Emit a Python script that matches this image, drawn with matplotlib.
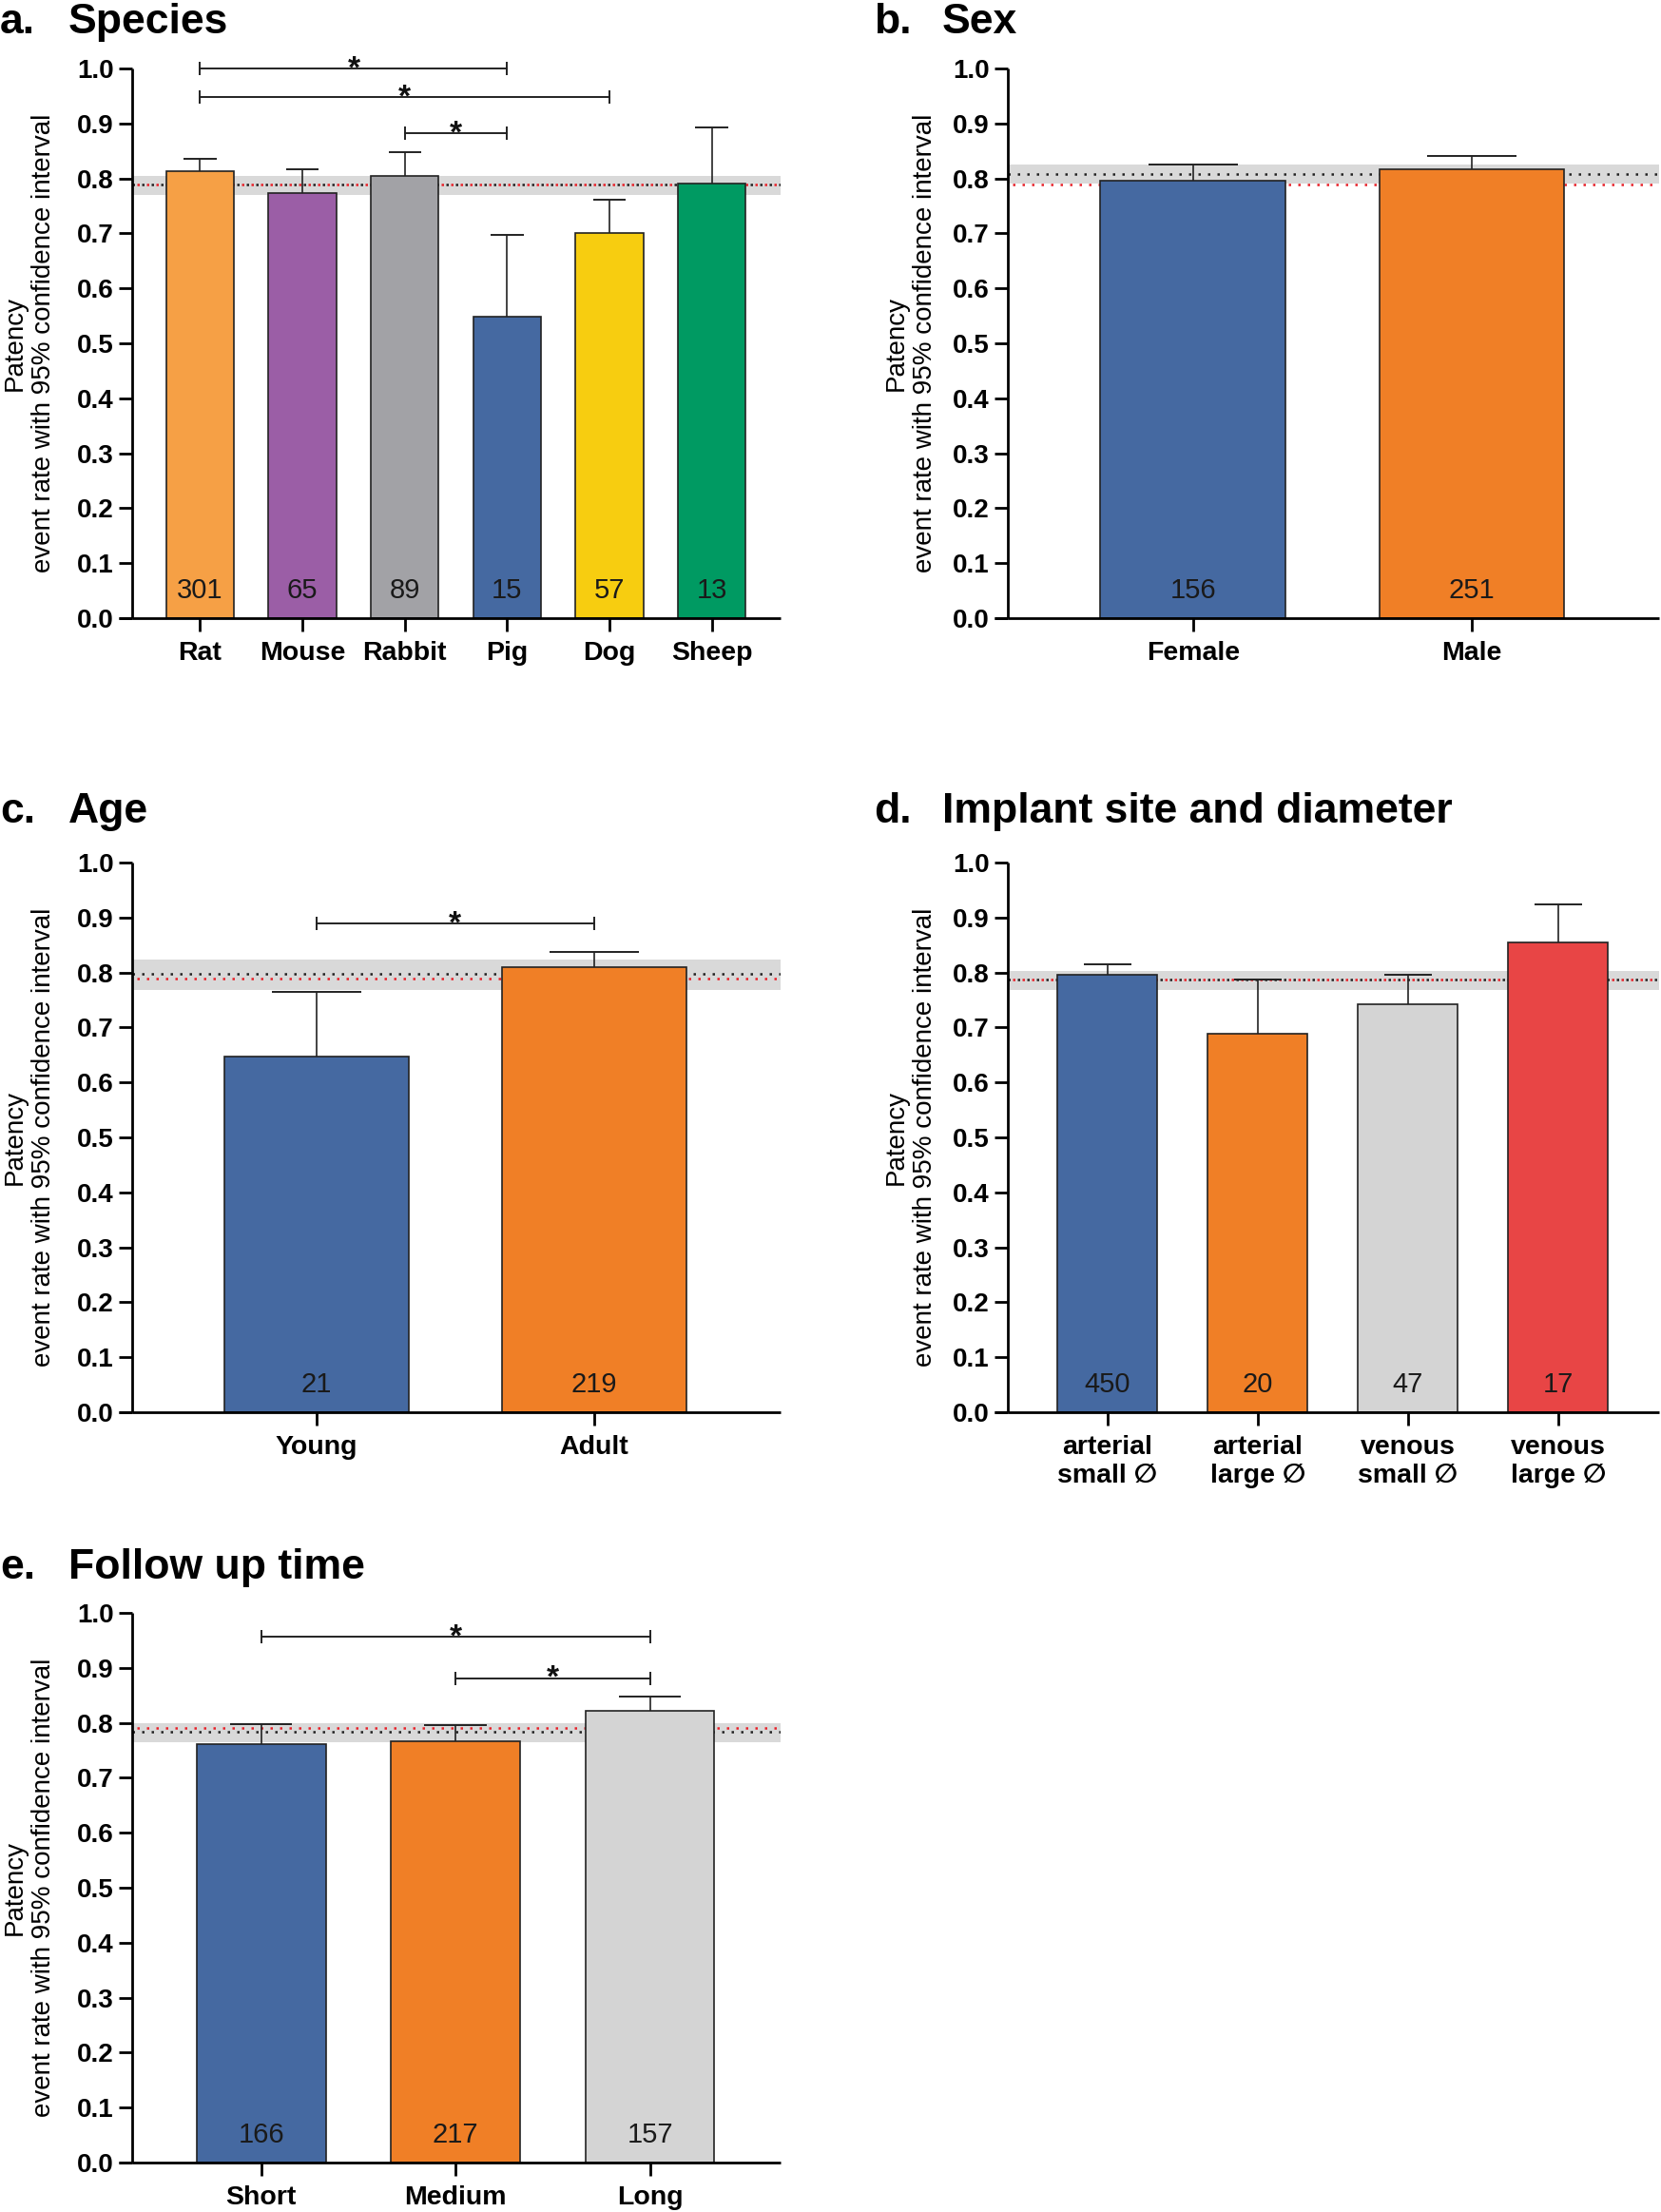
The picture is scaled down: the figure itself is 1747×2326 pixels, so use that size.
import matplotlib
matplotlib.use('agg')
import matplotlib.pyplot as plt
import numpy as np

plt.rcParams['font.family'] = ['Liberation Sans', 'DejaVu Sans']

# ---- data ----
species = ['Rat', 'Mouse', 'Rabbit', 'Pig', 'Dog', 'Sheep']
species_rate = [0.813, 0.773, 0.804, 0.549, 0.700, 0.790]
species_upper = [0.835, 0.817, 0.847, 0.697, 0.762, 0.892]
species_n = [301, 65, 89, 15, 57, 13]
species_colors = ['#F6A045', '#9B5EA6', '#A2A2A6', '#4569A1', '#F7CD10', '#009A62']
species_sig = [(0, 3, 1.0), (0, 4, 0.948), (2, 3, 0.882)]

sex = ['Female', 'Male']
sex_rate = [0.796, 0.817]
sex_upper = [0.826, 0.840]
sex_n = [156, 251]
sex_colors = ['#4569A1', '#F07F26']

age = ['Young', 'Adult']
age_rate = [0.647, 0.810]
age_upper = [0.765, 0.837]
age_n = [21, 219]
age_colors = ['#4569A1', '#F07F26']
age_sig = [(0, 1, 0.889)]

site = ['arterial\nsmall \u2205', 'arterial\nlarge \u2205', 'venous\nsmall \u2205', 'venous\nlarge \u2205']
site_rate = [0.795, 0.688, 0.742, 0.854]
site_upper = [0.815, 0.787, 0.795, 0.924]
site_n = [450, 20, 47, 17]
site_colors = ['#4569A1', '#F07F26', '#D4D4D4', '#E84545']

follow = ['Short', 'Medium', 'Long']
follow_rate = [0.761, 0.767, 0.821]
follow_upper = [0.797, 0.795, 0.848]
follow_n = [166, 217, 157]
follow_colors = ['#4569A1', '#F07F26', '#D4D4D4']
follow_sig = [(0, 2, 0.957), (1, 2, 0.881)]

# pooled estimate per panel: (ci low, ci high, black dotted, red dotted)
pooled_a = (0.770, 0.805, 0.789, 0.789)
pooled_b = (0.790, 0.825, 0.808, 0.789)
pooled_c = (0.768, 0.824, 0.798, 0.789)
pooled_d = (0.768, 0.803, 0.788, 0.788)
pooled_e = (0.765, 0.800, 0.783, 0.791)

W, H = 1747, 2326
fig = plt.figure(figsize=(W / 100, H / 100), dpi=100)

BW = 0.664
YLAB = 'Patency\nevent rate with 95% confidence interval'


def px_axes(l, t, r, b):
    return fig.add_axes([l / W, 1 - b / H, (r - l) / W, (b - t) / H])


def title(x, baseline, letter, text):
    fig.text(x / W, 1 - baseline / H, letter, fontsize=32, fontweight='bold', va='baseline')
    fig.text((x + 72) / W, 1 - baseline / H, text, fontsize=32, fontweight='bold', va='baseline')


def panel(box, labels, rates, uppers, counts, colors, pooled, sig=(), ylab_x=31):
    l, t, r, b = box
    ax = px_axes(l, t, r, b)
    n = len(labels)
    x = np.arange(n)
    ax.set_xlim(-0.664, n - 1 + 0.672)
    ax.set_ylim(0, 1.0)

    lo, hi, blk, red = pooled
    ax.axhspan(lo, hi, color='#D9D9D9', lw=0, zorder=0)
    ax.axhline(blk, color='#222222', lw=1.8, ls=(0, (1, 3)), zorder=1)
    ax.axhline(red, color='#E8222A', lw=1.8, ls=(2, (1, 3)), zorder=1)

    ax.bar(x, rates, width=BW, color=colors, edgecolor='#222222', lw=1.2, zorder=2)
    ax.vlines(x, rates, uppers, color='#222222', lw=1.2, zorder=3)
    ax.hlines(uppers, x - 0.16, x + 0.16, color='#222222', lw=1.4, zorder=3)

    for xi, c in zip(x, counts):
        ax.text(xi, 0.05, str(c), ha='center', va='center', fontsize=21,
                family=['Liberation Sans Narrow', 'Liberation Sans'], color='#1A1A1A', zorder=4)

    for i, j, y in sig:
        ax.plot([x[i], x[j]], [y, y], color='#222222', lw=1.4, clip_on=False, zorder=4)
        ax.vlines([x[i], x[j]], y - 0.012, y + 0.012, color='#222222', lw=1.4, clip_on=False, zorder=4)
        ax.text((x[i] + x[j]) / 2, y - 0.016, '*', ha='center', va='baseline', fontsize=24,
                fontweight='bold', color='#111111', clip_on=False)

    for s in ['top', 'right']:
        ax.spines[s].set_visible(False)
    for s in ['left', 'bottom']:
        ax.spines[s].set_linewidth(2)
        ax.spines[s].set_capstyle('butt')
    # prism style: x axis runs out under the y ticks
    ext = 14 / (r - l)
    ax.plot([-ext, 0], [0, 0], transform=ax.transAxes, color='black', lw=2,
            solid_capstyle='butt', clip_on=False)

    yt = np.round(np.arange(0, 1.01, 0.1), 1)
    ax.set_yticks(yt, labels=[f'{v:.1f}' for v in yt], fontsize=20, fontweight='bold')
    ax.set_xticks(x, labels=labels, fontsize=20.5, fontweight='bold')
    ax.tick_params(axis='both', length=10, width=2, pad=4)
    ax.tick_params(axis='x', pad=7)

    fig.text(ylab_x / W, 1 - (t + b) / 2 / H, YLAB, rotation=90, ha='center', va='center',
             fontsize=20, multialignment='center')
    return ax


title(0, 35, 'a.', 'Species')
panel((139, 72, 821, 650), species, species_rate, species_upper, species_n,
      species_colors, pooled_a, species_sig)

title(919, 35, 'b.', 'Sex')
panel((1060, 72, 1745, 650), sex, sex_rate, sex_upper, sex_n, sex_colors, pooled_b, ylab_x=958)

title(0, 865, 'c.', 'Age')
panel((139, 907, 821, 1485), age, age_rate, age_upper, age_n, age_colors, pooled_c, age_sig)

title(919, 865, 'd.', 'Implant site and diameter')
panel((1060, 907, 1745, 1485), site, site_rate, site_upper, site_n, site_colors, pooled_d,
      ylab_x=958)

title(0, 1660, 'e.', 'Follow up time')
panel((139, 1696, 821, 2274), follow, follow_rate, follow_upper, follow_n, follow_colors,
      pooled_e, follow_sig)

fig.savefig('out.png', dpi=100)
